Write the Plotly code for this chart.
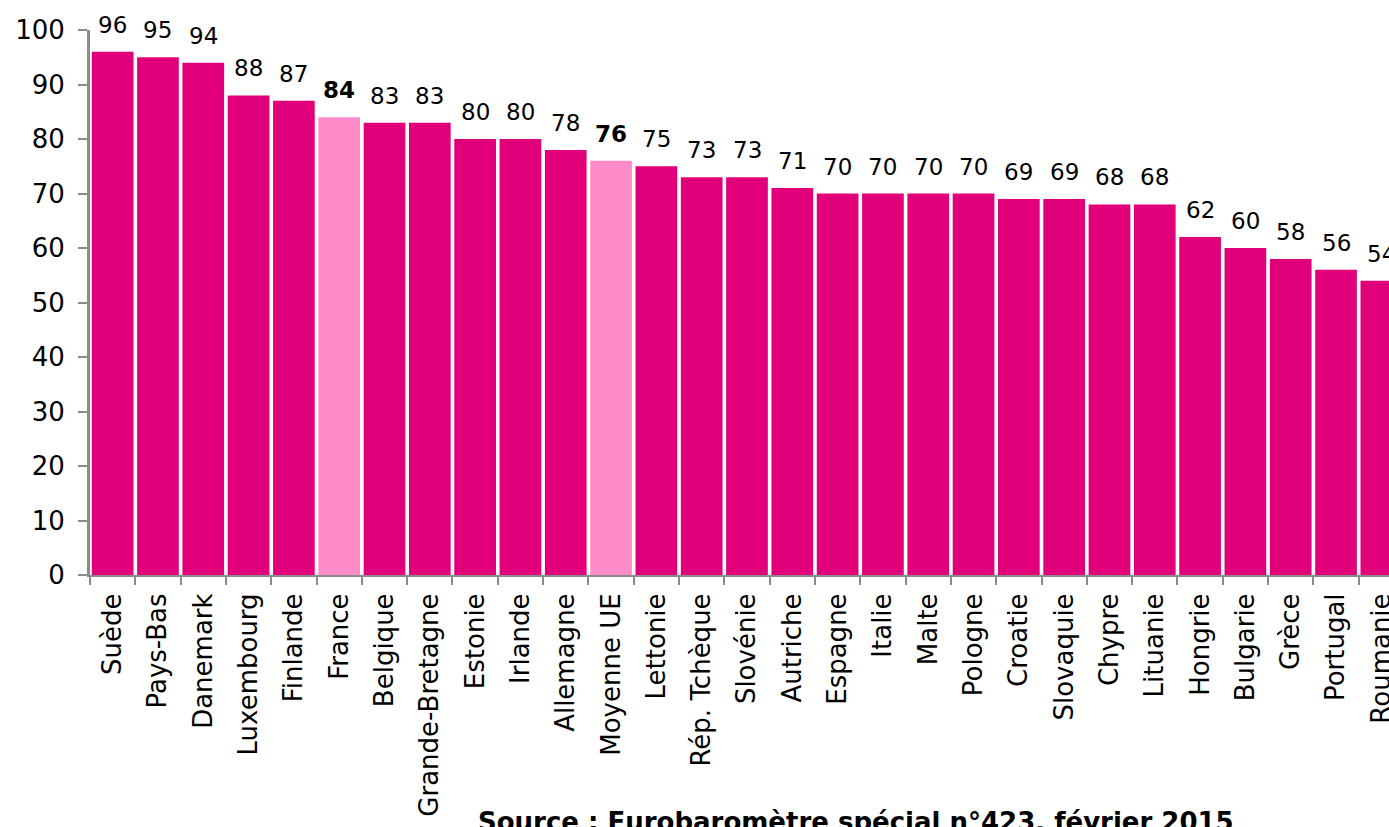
import plotly.graph_objects as go

countries = ["Suède", "Pays-Bas", "Danemark", "Luxembourg", "Finlande", "France",
             "Belgique", "Grande-Bretagne", "Estonie", "Irlande", "Allemagne",
             "Moyenne UE", "Lettonie", "Rép. Tchèque", "Slovénie", "Autriche",
             "Espagne", "Italie", "Malte", "Pologne", "Croatie", "Slovaquie",
             "Chypre", "Lituanie", "Hongrie", "Bulgarie", "Grèce", "Portugal",
             "Roumanie"]
values = [96, 95, 94, 88, 87, 84, 83, 83, 80, 80, 78, 76, 75, 73, 73, 71,
          70, 70, 70, 70, 69, 69, 68, 68, 62, 60, 58, 56, 54]
highlight = ["France", "Moyenne UE"]

DARK = "#E2007A"
LIGHT = "#FF8CC8"
FONT = "DejaVu Sans, Verdana, sans-serif"

W, H = 1389, 827
ML, MT, MB = 90, 30, 252
plot_w = W - ML
plot_h = H - MT - MB

colors = [LIGHT if c in highlight else DARK for c in countries]

fig = go.Figure()
fig.add_trace(go.Bar(
    x=countries, y=values,
    marker=dict(color=colors, line=dict(width=0)),
    hoverinfo="x+y",
))

for c, v in zip(countries, values):
    bold = c in highlight
    fig.add_annotation(
        x=c, y=v, xref="x", yref="y",
        text=f"<b>{v}</b>" if bold else str(v),
        showarrow=False, yanchor="bottom", yshift=12,
        font=dict(family=FONT, size=23, color="#000000"),
    )

fig.add_annotation(
    x=(856 - ML) / plot_w, y=(MT + plot_h - 805) / plot_h,
    xref="paper", yref="paper",
    text="<b>Source : Eurobaromètre spécial n°423, février 2015</b>",
    showarrow=False, xanchor="center", yanchor="top",
    font=dict(family=FONT, size=26, color="#000000"),
)

fig.update_layout(
    width=W, height=H,
    margin=dict(l=ML, r=0, t=MT, b=MB, pad=0, autoexpand=False),
    paper_bgcolor="white", plot_bgcolor="white",
    bargap=0.08,
    showlegend=False,
    font=dict(family=FONT, size=26, color="#000000"),
    xaxis=dict(
        type="category",
        range=[-0.5, plot_w / 45.31 - 0.5],
        tickangle=-90,
        ticks="outside", ticklen=8, tickcolor="#8C8C8C", tickwidth=2,
        tickson="boundaries",
        ticklabelstandoff=6,
        automargin=False,
        showline=True, linecolor="#8C8C8C", linewidth=2,
        showgrid=False,
        tickfont=dict(family=FONT, size=26, color="#000000"),
    ),
    yaxis=dict(
        range=[0, 100], dtick=10, tick0=0,
        ticks="outside", ticklen=9, tickcolor="#8C8C8C", tickwidth=2,
        ticklabelstandoff=8,
        automargin=False,
        showline=True, linecolor="#8C8C8C", linewidth=3,
        showgrid=False, zeroline=False,
        tickfont=dict(family=FONT, size=26, color="#000000"),
    ),
)

fig.write_html(
    "out.html",
    config={"displayModeBar": False},
    post_script="document.body.style.margin='0';document.body.style.overflow='hidden';"
                "document.documentElement.style.overflow='hidden';",
)
